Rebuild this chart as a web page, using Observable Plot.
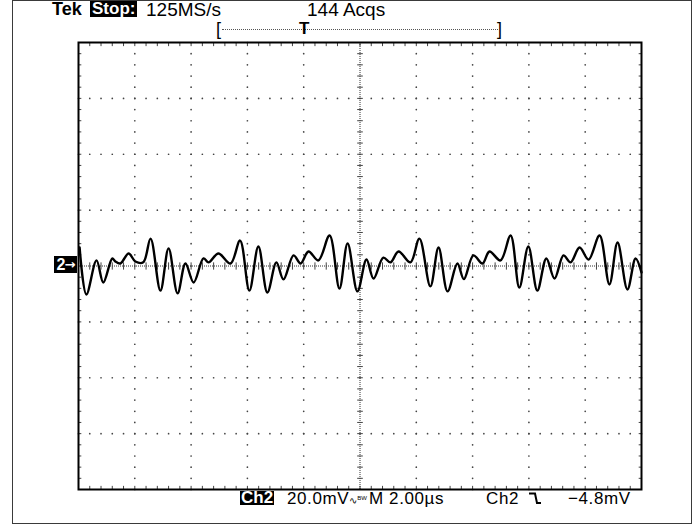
<!DOCTYPE html>
<html>
<head>
<meta charset="utf-8">
<script src="https://cdn.jsdelivr.net/npm/d3@7"></script>
<script src="https://cdn.jsdelivr.net/npm/@observablehq/plot@0.6"></script>
<style>
  html, body { margin: 0; padding: 0; background: #fff; }
  #wrap { position: relative; width: 698px; height: 524px; background: #fff; overflow: hidden;
          font-family: "Liberation Sans", Arial, sans-serif; color: #000; }
  #wrap svg.chart { position: absolute; left: 0; top: 0; }
  .t { position: absolute; white-space: nowrap; line-height: 1; }
  .inv { background: #000; color: #fff; }
</style>
</head>
<body>
<div id="wrap">
  <div style="position:absolute;left:12px;top:0;width:678px;height:522px;border:1px solid #3a3a3a;"></div>
</div>
<script>
// ---- data (time in µs, voltage in mV) ----
const timeUs = [0.04,0.28,0.64,0.88,1.20,1.31,1.49,1.78,2.02,2.30,
  2.56,2.91,3.20,3.52,3.80,4.09,4.44,4.62,4.97,5.40,
  5.74,6.07,6.39,6.71,7.03,7.28,7.64,7.89,8.17,8.52,
  8.92,9.27,9.56,9.91,10.23,10.48,10.83,11.08,11.37,11.79,
  12.11,12.50,12.79,13.11,13.46,13.69,14.03,14.35,14.60,14.99,
  15.35,15.66,15.98,16.30,16.62,16.91,17.23,17.48,17.80,18.12,
  18.51,18.86,19.15,19.50,19.79,20.0];
const voltageMv = [6.6,-10.2,2.0,-5.9,2.7,1.6,0.9,4.5,1.6,1.3,
  9.8,-8.8,6.3,-9.8,0.9,-5.9,2.7,1.3,4.5,0.9,
  9.1,-8.8,7.0,-9.5,1.3,-4.8,3.8,0.9,5.2,2.0,
  10.9,-8.1,8.1,-9.1,2.3,-4.5,3.0,1.3,5.2,1.3,
  9.8,-7.3,6.6,-9.1,0.9,-4.7,3.8,0.9,5.2,2.0,
  10.9,-7.7,7.0,-8.8,2.7,-4.5,3.8,1.3,6.6,2.3,
  10.9,-6.6,8.4,-8.4,2.7,-2.3];

const timeDomain = [0, 20];      // 10 div × 2.00 µs
const voltDomain = [-80, 80];    // 8 div × 20.0 mV
const headerLeft = "Tek";
const headerStop = "Stop:";
const headerRate = "125MS/s";
const headerAcqs = "144 Acqs";
const footerCh = "Ch2";
const footerScale = "20.0mV";
const footerTime = "M 2.00µs";
const footerTrig = "Ch2";
const footerLevel = "\u22124.8mV";

const wave = timeUs.map((t, i) => ({t, v: voltageMv[i]}));

// graticule positions (divisions and 1/5 subdivisions)
const xMajor = d3.range(2, 20, 2).filter(d => d !== 10);
const yMajor = d3.range(-60, 61, 20).filter(d => d !== 0);
const xMinor = d3.range(0, 20.001, 0.4);
const yMinor = d3.range(-80, 80.001, 4);

const gridDots = [
  ...xMajor.flatMap(x => yMinor.map(y => ({x, y}))),
  ...yMajor.flatMap(y => xMinor.map(x => ({x, y})))
];

const tickLenV = 1.3;   // mV
const tickLenH = 0.1;   // µs

const chart = Plot.plot({
  width: 698,
  height: 524,
  marginLeft: 78,
  marginRight: 57,
  marginTop: 42,
  marginBottom: 35,
  x: {domain: timeDomain, axis: null},
  y: {domain: voltDomain, axis: null},
  style: {background: "transparent"},
  marks: [
    Plot.dot(gridDots, {x: "x", y: "y", r: 0.85, fill: "#444", stroke: null}),
    Plot.ruleY([0], {stroke: "#333", strokeDasharray: "1,1"}),
    Plot.ruleX([10], {stroke: "#333", strokeDasharray: "1,1"}),
    // center ticks
    Plot.link(xMinor, {x1: d => d, x2: d => d, y1: -tickLenV, y2: tickLenV, stroke: "#444"}),
    Plot.link(yMinor, {x1: 10 - tickLenH, x2: 10 + tickLenH, y1: d => d, y2: d => d, stroke: "#444"}),
    // frame edge ticks
    Plot.link(xMinor, {x1: d => d, x2: d => d, y1: 80, y2: 80 - tickLenV, stroke: "#444"}),
    Plot.link(xMinor, {x1: d => d, x2: d => d, y1: -80, y2: -80 + tickLenV, stroke: "#444"}),
    Plot.link(yMinor, {x1: 0, x2: tickLenH, y1: d => d, y2: d => d, stroke: "#444"}),
    Plot.link(yMinor, {x1: 20, x2: 20 - tickLenH, y1: d => d, y2: d => d, stroke: "#444"}),
    Plot.frame({stroke: "#000", strokeWidth: 2}),
    Plot.line(wave, {x: "t", y: "v", curve: "catmull-rom", stroke: "#000", strokeWidth: 2.4})
  ]
});
chart.classList.add("chart");
const wrap = document.getElementById("wrap");
wrap.appendChild(chart);

function place(html, left, top, size, cls = "", extra = "") {
  const s = document.createElement("div");
  s.className = "t " + cls;
  s.style.left = left + "px";
  s.style.top = top + "px";
  s.style.fontSize = size + "px";
  if (extra) s.style.cssText += extra;
  s.innerHTML = html;
  wrap.appendChild(s);
  return s;
}

// header
const hl = "line-height:17px;height:17px;";
place(headerLeft, 52, 1, 18, "", "font-weight:bold;" + hl);
place(headerStop, 90, 1, 17, "inv", "padding:0 2px;line-height:16px;height:16px;font-weight:bold;");
place(headerRate, 146, 1, 19, "", hl);
place(headerAcqs, 307, 1, 19, "", hl);
// trigger position bar
place("[", 216, 21, 18, "", "line-height:16px;height:16px;");
const bar = document.createElement("div");
bar.style.cssText = "position:absolute;left:222px;top:29px;width:276px;height:0;border-top:1px dotted #555;";
wrap.appendChild(bar);
place("T", 299, 21, 17, "", "font-weight:bold;line-height:16px;height:16px;");
place("]", 497, 21, 18, "", "line-height:16px;height:16px;");

// ground marker
place("<span style='font-size:16px'>2</span><span style='font-family:\"DejaVu Sans\";font-size:13px;vertical-align:1px'>\u2192</span>",
      54, 256, 16, "inv", "font-weight:bold;width:23px;height:17px;line-height:17px;text-align:center;letter-spacing:-1px;");

// footer
const fs = "letter-spacing:0.6px;";
place(footerCh, 240, 491, 17, "inv", "padding:0 1px;height:14px;line-height:14px;font-weight:bold;");
place(footerScale + "<span style='font-size:10px;letter-spacing:0'>\u223F</span><span style='font-size:6px;vertical-align:4px;letter-spacing:0'>BW</span>", 287, 490, 17, "", fs);
place(footerTime, 369, 490, 17, "", fs);
place(footerTrig, 486, 490, 17, "", fs);
const edge = document.createElementNS("http://www.w3.org/2000/svg", "svg");
edge.setAttribute("width", 16); edge.setAttribute("height", 14);
edge.style.cssText = "position:absolute;left:528px;top:492px;";
edge.innerHTML = '<path d="M1,1.5 H7 L9,11 H13" fill="none" stroke="#000" stroke-width="2"/>';
wrap.appendChild(edge);
place(footerLevel, 568, 490, 17, "", fs);
</script>
</body>
</html>
